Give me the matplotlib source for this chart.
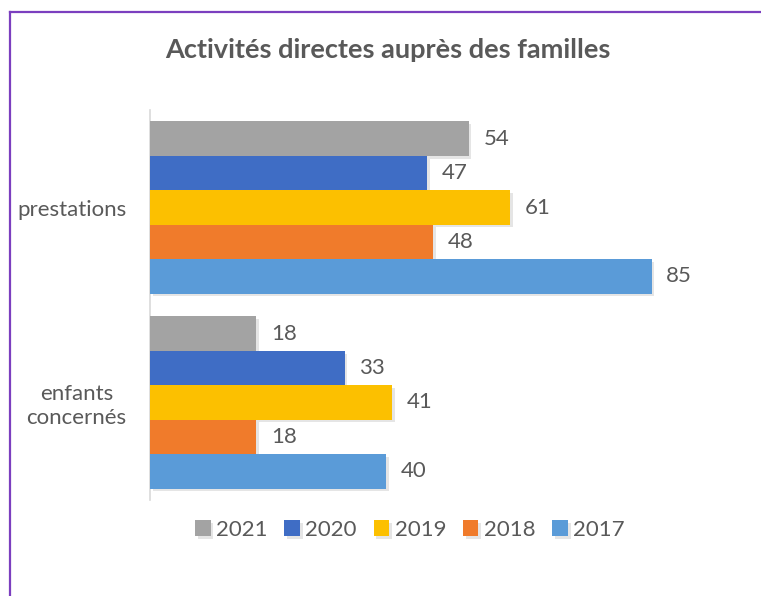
import matplotlib.pyplot as plt
import matplotlib.patheffects as pe
from matplotlib.lines import Line2D

# Data
categories = ["prestations", "enfants\nconcernés"]
years = ["2021", "2020", "2019", "2018", "2017"]
values = {
    "2021": [54, 18],
    "2020": [47, 33],
    "2019": [61, 41],
    "2018": [48, 18],
    "2017": [85, 40],
}
colors = ["#A3A3A3", "#3F6DC5", "#FCC000", "#F07B2B", "#5A9BD8"]

plt.rcParams['font.family'] = ['Lato', 'DejaVu Sans']
text_color = "#595959"

fig = plt.figure(figsize=(7.61, 5.96), dpi=100)
ax = fig.add_axes([150 / 761, 1 - 500 / 596, 531 / 761, 390 / 596])

h = 0.1765
shadow = [pe.SimplePatchShadow(offset=(2, -2), shadow_rgbFace="#000000", alpha=0.1), pe.Normal()]
for i, yr in enumerate(years):
    offs = (i - 2) * h
    ypos = [c + offs for c in range(len(categories))]
    bars = ax.barh(ypos, values[yr], height=h, color=colors[i], label=yr, zorder=3)
    for b in bars:
        b.set_path_effects(shadow)
    for y, v in zip(ypos, values[yr]):
        ax.text(v + 2.5, y, str(v), va="center", ha="left", fontsize=16, color=text_color)

ax.set_xlim(0, 90)
ax.set_ylim(1.5, -0.5)
ax.set_yticks(range(len(categories)))
ax.set_yticklabels(categories, fontsize=16, color=text_color, ha="right")
for lab in ax.get_yticklabels():
    lab.set_multialignment("center")
ax.tick_params(axis="y", length=0, pad=17)
ax.set_xticks([])
for s in ["top", "right", "bottom"]:
    ax.spines[s].set_visible(False)
ax.spines["left"].set_color("#D9D9D9")
ax.spines["left"].set_linewidth(1.2)

fig.text(388 / 761, 1 - 50 / 596, "Activités directes auprès des familles",
         ha="center", va="center", fontsize=19.5, fontweight="bold", color=text_color)

fig.legend(loc="center", bbox_to_anchor=(410 / 761, 1 - 530 / 596), ncol=5,
           frameon=False, fontsize=16, labelcolor=text_color,
           handlelength=0.7, handleheight=0.7, handletextpad=0.25, columnspacing=0.75)

# purple frame (left and top edges visible)
fig.add_artist(Line2D([9.5 / 761, 9.5 / 761], [0, 1 - 11.5 / 596], color="#7B3FBF", lw=1.6,
                      transform=fig.transFigure))
fig.add_artist(Line2D([9.5 / 761, 1], [1 - 11.5 / 596, 1 - 11.5 / 596], color="#7B3FBF", lw=1.6,
                      transform=fig.transFigure))

fig.savefig("out.png", dpi=100)
